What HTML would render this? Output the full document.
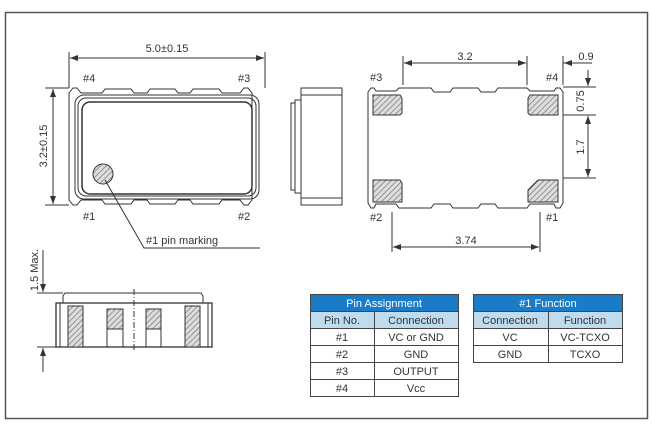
<!DOCTYPE html>
<html><head><meta charset="utf-8"><style>
body{margin:0;background:#fff;width:652px;height:435px;overflow:hidden}
svg{display:block}
text{font-family:"Liberation Sans",sans-serif;fill:#333}
</style></head><body>
<svg width="652" height="435" viewBox="0 0 652 435" xmlns="http://www.w3.org/2000/svg">
<defs>
<pattern id="h" width="4" height="4" patternUnits="userSpaceOnUse" patternTransform="rotate(45)">
<rect width="4" height="4" fill="#ddd"/><line x1="0" y1="0" x2="0" y2="4" stroke="#666" stroke-width="1.2"/></pattern>
<marker id="a" markerWidth="8" markerHeight="6" refX="8" refY="3" orient="auto-start-reverse" markerUnits="userSpaceOnUse"><path d="M0,0 L8,3 L0,6z" fill="#333"/></marker>
</defs>
<rect x="5.5" y="12.5" width="642" height="406" fill="none" stroke="#555" stroke-width="1.5"/>
<g stroke="#333" fill="none" stroke-width="1">
<!-- top view -->
<path d="M69,93 l4,-5 h4 l4,5 h21 l3,-4 h26 l3,4 h13 l3,-4 h25 l3,4 h12 l3,-4 h26 l3,4 h18 l4,-5 h4 l4,5 V200 l-4,5 h-4 l-4,-5 h-18 l-3,4 h-26 l-3,-4 h-12 l-3,4 h-25 l-3,-4 h-13 l-3,4 h-26 l-3,-4 h-21 l-4,5 h-4 l-4,-5z" fill="#fff"/>
<rect x="75" y="95" width="184" height="104" rx="9"/>
<rect x="78" y="98" width="178" height="98" rx="8"/>
<rect x="82" y="102" width="170" height="92" rx="8" stroke-width="1.5"/>
<circle cx="103" cy="174" r="10" fill="url(#h)"/>
<path d="M105,180 L144,248 H260"/>
<line x1="69" y1="52" x2="69" y2="88"/><line x1="265" y1="52" x2="265" y2="88"/>
<line x1="70" y1="58" x2="264" y2="58" marker-start="url(#a)" marker-end="url(#a)"/>
<line x1="45" y1="88" x2="69" y2="88"/><line x1="45" y1="205" x2="69" y2="205"/>
<line x1="53" y1="89" x2="53" y2="204" marker-start="url(#a)" marker-end="url(#a)"/>
<!-- side view -->
<rect x="301" y="88" width="41" height="117"/>
<line x1="301" y1="95" x2="342" y2="95"/><line x1="301" y1="198" x2="342" y2="198"/>
<path d="M301,100 h-6 v93 h6 M295,103 h-4 v87 h4"/>
<!-- bottom view right -->
<path d="M368,92 L371,88 H374 L376,91 H396 L399,88 H431 L434,92 H450 L453,88 H478 L481,92 H495 L498,88 H527 L530,91 H554 L556,88 H560 L563,92 V203 L560,208 H556 L554,204 H530 L527,208 H498 L495,204 H481 L478,208 H453 L450,204 H434 L431,208 H399 L396,204 H376 L374,208 H371 L368,203 Z" fill="#fff"/>
<path d="M373,95 h27 l2,3 v15 l-2,2 h-27z" fill="url(#h)"/>
<path d="M530,95 h28 v20 h-28 l-2,-2 v-15z" fill="url(#h)"/>
<path d="M373,180 h27 l2,3 v19 h-29z" fill="url(#h)"/>
<path d="M538,180 h20 v22 h-30 v-12z" fill="url(#h)"/>
<line x1="403" y1="56" x2="403" y2="85"/><line x1="527" y1="56" x2="527" y2="85"/>
<line x1="404" y1="63" x2="526" y2="63" marker-start="url(#a)" marker-end="url(#a)"/>
<line x1="563" y1="56" x2="563" y2="85"/>
<line x1="577" y1="63" x2="564" y2="63" marker-end="url(#a)"/><line x1="563" y1="63" x2="592" y2="63"/>
<line x1="563" y1="87" x2="596" y2="87"/><line x1="563" y1="115" x2="596" y2="115"/><line x1="563" y1="178" x2="596" y2="178"/>
<line x1="588" y1="70" x2="588" y2="86" marker-end="url(#a)"/>
<line x1="588" y1="116" x2="588" y2="177" marker-start="url(#a)" marker-end="url(#a)"/>
<line x1="392" y1="212" x2="392" y2="252"/><line x1="540" y1="212" x2="540" y2="252"/>
<line x1="393" y1="247" x2="539" y2="247" marker-start="url(#a)" marker-end="url(#a)"/>
<!-- side view bottom -->
<path d="M63,303 v-7 l2,-3 h136 l2,3 v7"/>
<rect x="56" y="303" width="156" height="44" fill="#fff" stroke-width="1.3"/>
<line x1="60" y1="303" x2="60" y2="347"/><line x1="208" y1="303" x2="208" y2="347"/>
<rect x="68" y="306" width="15" height="41" fill="url(#h)"/>
<rect x="107" y="309" width="16" height="20" fill="url(#h)"/><rect x="107" y="309" width="16" height="38"/>
<rect x="146" y="309" width="15" height="20" fill="url(#h)"/><rect x="146" y="309" width="15" height="38"/>
<rect x="185" y="306" width="15" height="41" fill="url(#h)"/>
<line x1="134" y1="289" x2="134" y2="351" stroke-dasharray="6,2,1,2"/>
<line x1="37" y1="293" x2="63" y2="293"/><line x1="37" y1="347" x2="56" y2="347"/>
<line x1="43" y1="250" x2="43" y2="292" marker-end="url(#a)"/>
<line x1="43" y1="372" x2="43" y2="348" marker-end="url(#a)"/>
</g>
<g font-size="11">
<text x="167" y="52" text-anchor="middle">5.0±0.15</text>
<text x="83" y="82">#4</text><text x="238" y="82">#3</text>
<text x="83" y="220">#1</text><text x="238" y="220">#2</text>
<text x="146" y="244">#1 pin marking</text>
<text transform="translate(47,146) rotate(-90)" text-anchor="middle">3.2±0.15</text>
<text x="465" y="60" text-anchor="middle">3.2</text>
<text x="586" y="60" text-anchor="middle">0.9</text>
<text x="370" y="81">#3</text><text x="546" y="81">#4</text>
<text x="370" y="221">#2</text><text x="546" y="221">#1</text>
<text x="466" y="244" text-anchor="middle">3.74</text>
<text transform="translate(584,101) rotate(-90)" text-anchor="middle">0.75</text>
<text transform="translate(584,147) rotate(-90)" text-anchor="middle">1.7</text>
<text transform="translate(38,270) rotate(-90)" text-anchor="middle">1.5 Max.</text>
</g>
<!-- tables -->
<g font-size="11" text-anchor="middle">
<rect x="310" y="294" width="149" height="17" fill="#1a7cc6"/>
<rect x="310" y="311" width="149" height="17" fill="#bfdcef"/>
<rect x="473" y="294" width="150" height="17" fill="#1a7cc6"/>
<rect x="473" y="311" width="150" height="17" fill="#bfdcef"/>
<g stroke="#444" fill="none" stroke-width="1">
<rect x="310.5" y="294.5" width="148" height="102"/>
<line x1="310" y1="311.5" x2="459" y2="311.5"/><line x1="310" y1="328.5" x2="459" y2="328.5"/>
<line x1="310" y1="345.5" x2="459" y2="345.5"/><line x1="310" y1="362.5" x2="459" y2="362.5"/>
<line x1="310" y1="379.5" x2="459" y2="379.5"/><line x1="374.5" y1="311" x2="374.5" y2="397"/>
<rect x="473.5" y="294.5" width="149" height="68"/>
<line x1="473" y1="311.5" x2="623" y2="311.5"/><line x1="473" y1="328.5" x2="623" y2="328.5"/>
<line x1="473" y1="345.5" x2="623" y2="345.5"/><line x1="548.5" y1="311" x2="548.5" y2="363"/>
</g>
<text x="384" y="307" style="fill:#fff">Pin Assignment</text>
<text x="548" y="307" style="fill:#fff">#1 Function</text>
<text x="342" y="324">Pin No.</text><text x="416" y="324">Connection</text>
<text x="342" y="341">#1</text><text x="416" y="341">VC or GND</text>
<text x="342" y="358">#2</text><text x="416" y="358">GND</text>
<text x="342" y="375">#3</text><text x="416" y="375">OUTPUT</text>
<text x="342" y="392">#4</text><text x="416" y="392">Vcc</text>
<text x="510" y="324">Connection</text><text x="585" y="324">Function</text>
<text x="510" y="341">VC</text><text x="585" y="341">VC-TCXO</text>
<text x="510" y="358">GND</text><text x="585" y="358">TCXO</text>
</g>
</svg>
</body></html>
